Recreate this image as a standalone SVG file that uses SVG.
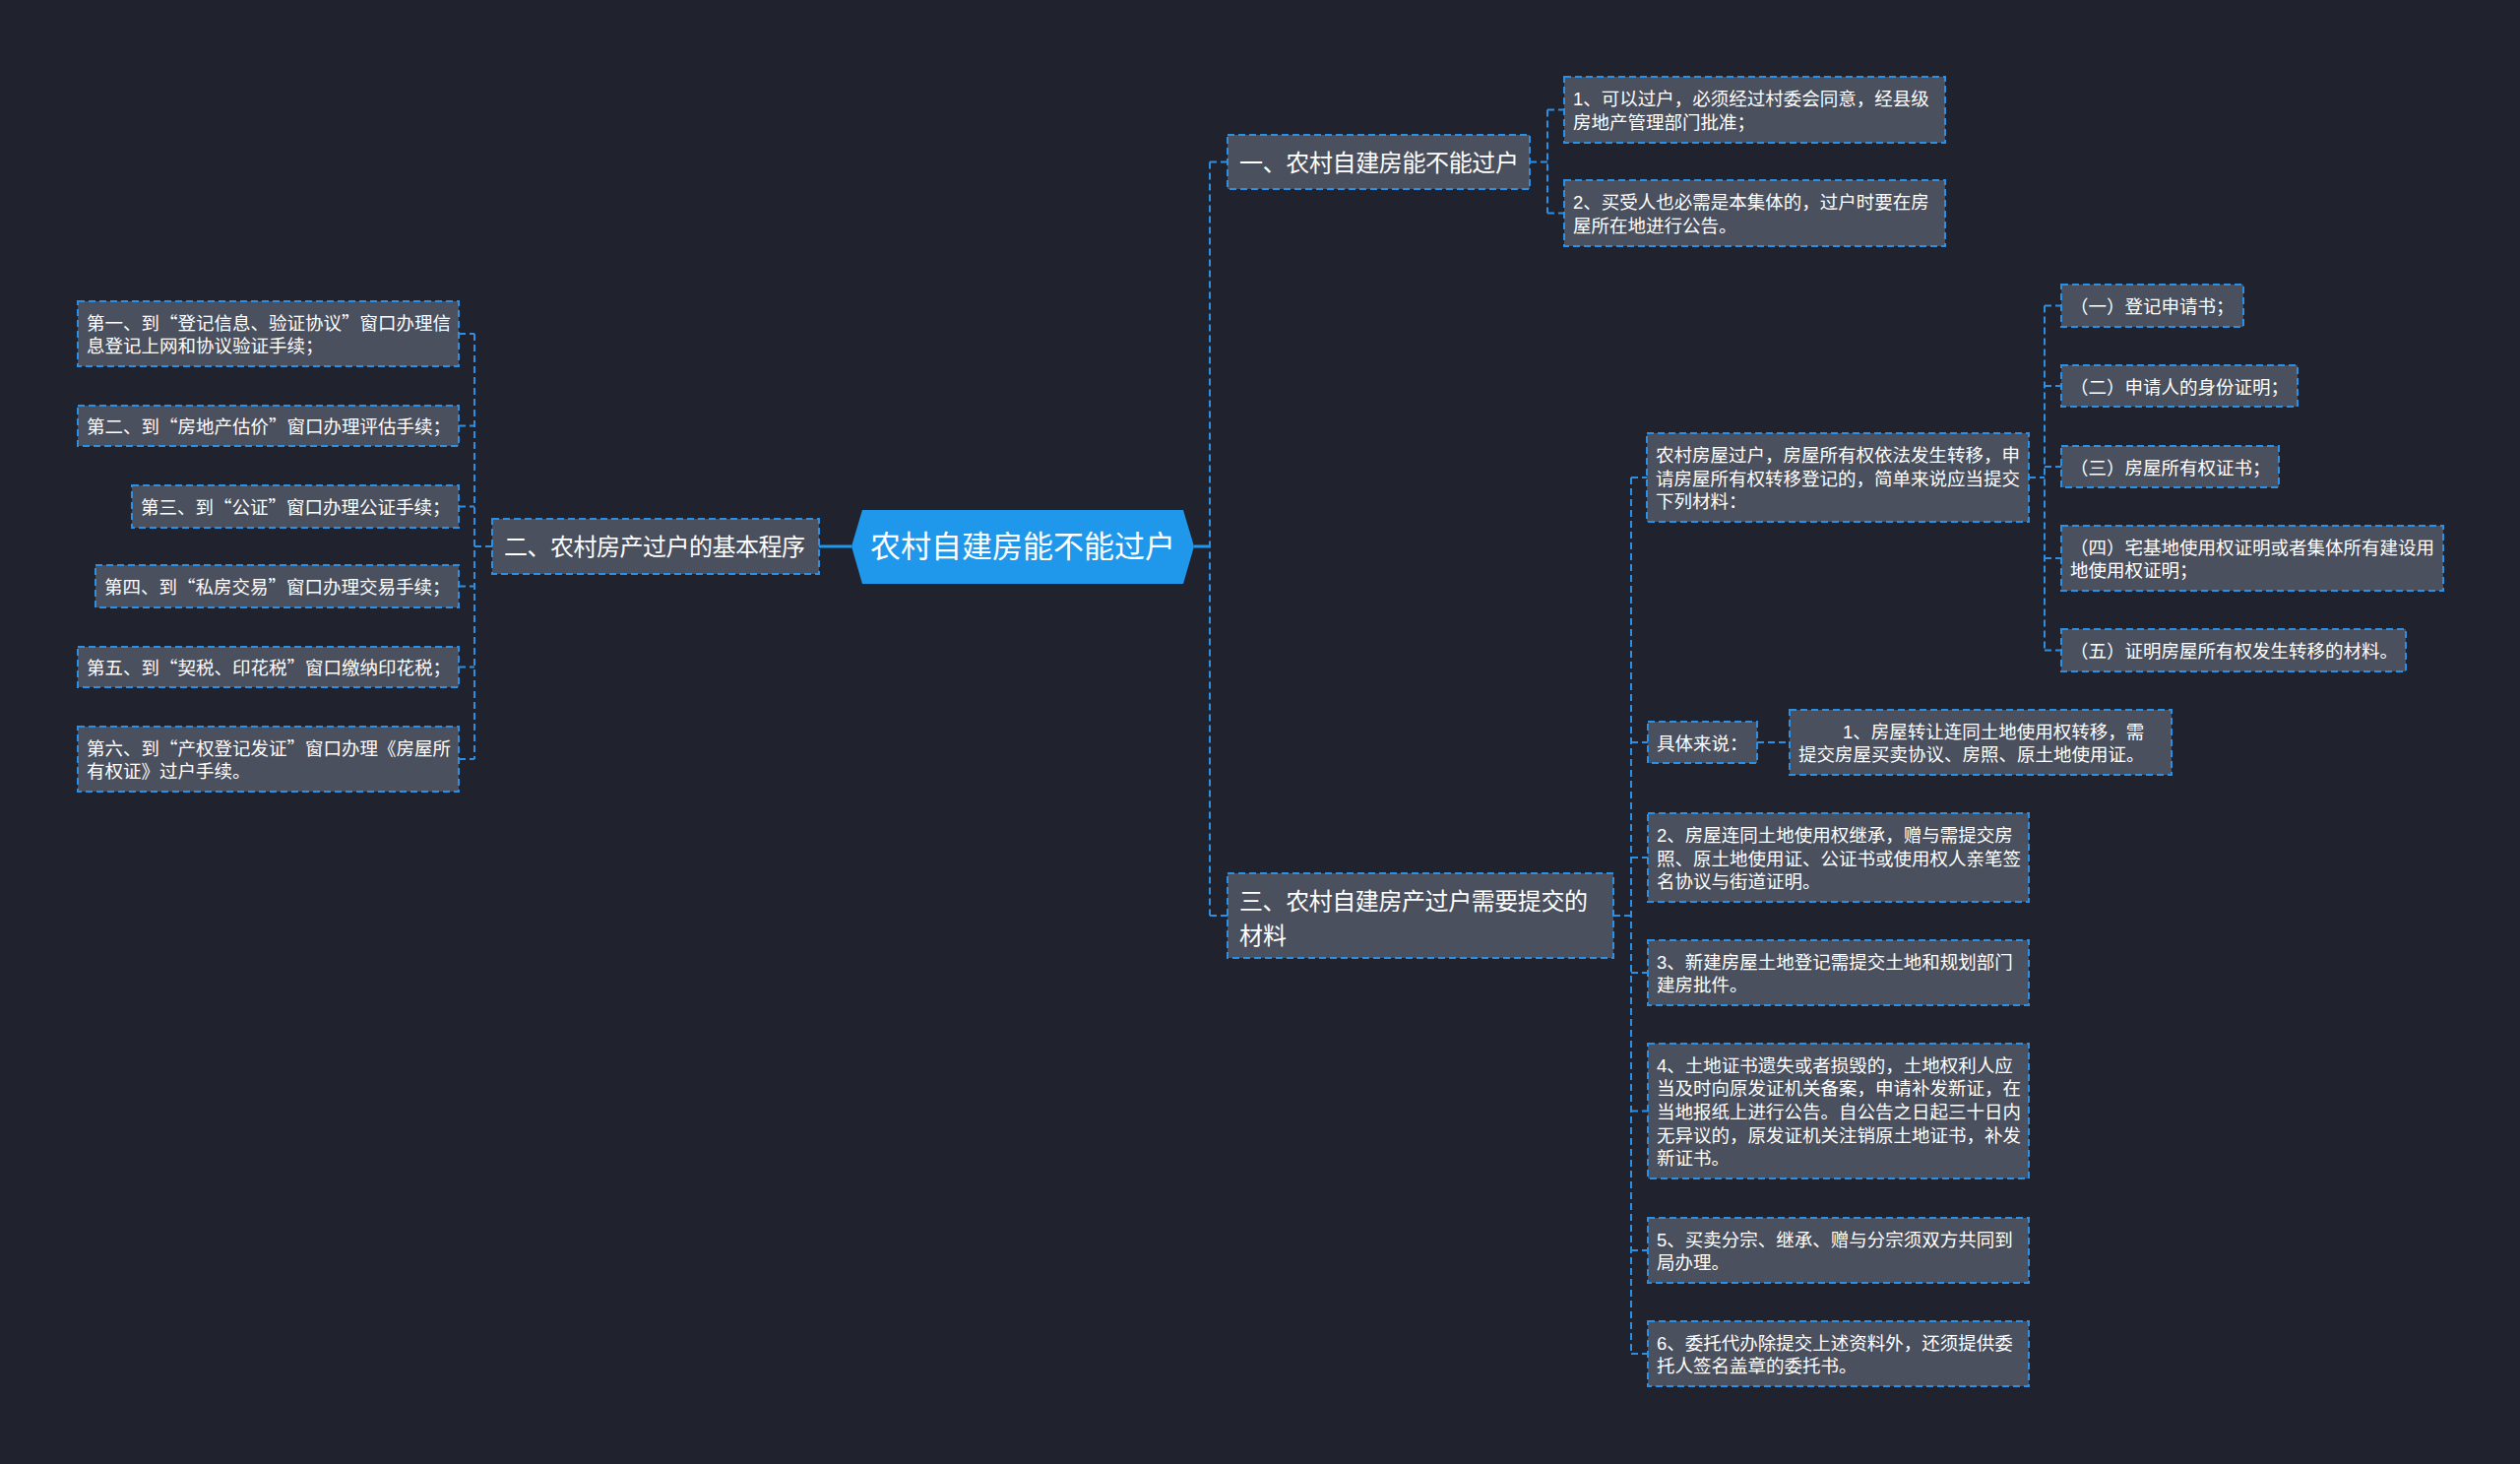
<svg xmlns="http://www.w3.org/2000/svg" width="2560" height="1487" viewBox="0 0 2560 1487">
<style>
.box{fill:#4a505e;stroke:#2b8fe3;stroke-width:2;stroke-dasharray:7 4}
.ln{fill:none;stroke:#2b8fe3;stroke-width:2;stroke-dasharray:7 4}
.sl{fill:none;stroke:#1f98ec;stroke-width:3}
text{font-family:'Liberation Sans','Noto Sans CJK SC',sans-serif;fill:#ffffff;font-size:18.5px}
.h{font-size:24px}
.q{font-family:'Noto Sans CJK SC',sans-serif}
</style>
<rect x="0" y="0" width="2560" height="1487" fill="#20232e"/>
<g id="connectors">
<path class="sl" d="M865,555 H832"/>
<path class="sl" d="M1213,555 H1229"/>
<path class="ln" d="M500,555 H482 M482,339 V771 M466,339 H482 M466,432.5 H482 M466,514.5 H482 M466,595.5 H482 M466,677.5 H482 M466,771 H482"/>
<path class="ln" d="M1229,164.5 V930 M1229,164.5 H1247 M1229,930 H1247"/>
<path class="ln" d="M1554,164.5 H1572 M1572,111.5 V216.5 M1572,111.5 H1589 M1572,216.5 H1589"/>
<path class="ln" d="M1639,930 H1657 M1657,485 V1375 M1657,485 H1673 M1657,754 H1674 M1657,871 H1674 M1657,988 H1674 M1657,1128.5 H1674 M1657,1270 H1674 M1657,1375 H1674"/>
<path class="ln" d="M2061,485 H2077 M2077,310.5 V660.5 M2077,310.5 H2094 M2077,392 H2094 M2077,474 H2094 M2077,567 H2094 M2077,660.5 H2094"/>
<path class="ln" d="M1785,754 H1818"/>
</g>
<g id="root">
<polygon points="865,555 876,518 1202,518 1213,555 1202,593 876,593" fill="#1f98ec"/>
<text x="1039" y="566" text-anchor="middle" style="font-size:31px">农村自建房能不能过户</text>
</g>
<g id="n1">
<rect class="box" x="1247" y="137" width="307" height="55"/>
<text class="h" x="1259" y="173.5" textLength="284">一、农村自建房能不能过户</text>
</g>
<g id="n1-1">
<rect class="box" x="1589" y="78" width="387" height="67"/>
<text x="1598" y="107.2">1、可以过户，必须经过村委会同意，经县级</text>
<text x="1598" y="130.9">房地产管理部门批准；</text>
</g>
<g id="n1-2">
<rect class="box" x="1589" y="183" width="387" height="67"/>
<text x="1598" y="212.2">2、买受人也必需是本集体的，过户时要在房</text>
<text x="1598" y="235.9">屋所在地进行公告。</text>
</g>
<g id="n2">
<rect class="box" x="500" y="527" width="332" height="56"/>
<text class="h" x="512" y="564" textLength="306">二、农村房产过户的基本程序</text>
</g>
<g id="n2-1">
<rect class="box" x="79" y="306" width="387" height="66"/>
<text x="88" y="334.7">第一、到<tspan class="q">“</tspan>登记信息、验证协议<tspan class="q">”</tspan>窗口办理信</text>
<text x="88" y="358.4">息登记上网和协议验证手续；</text>
</g>
<g id="n2-2">
<rect class="box" x="79" y="412" width="387" height="41"/>
<text x="88" y="440">第二、到<tspan class="q">“</tspan>房地产估价<tspan class="q">”</tspan>窗口办理评估手续；</text>
</g>
<g id="n2-3">
<rect class="box" x="134" y="493" width="332" height="43"/>
<text x="143" y="522">第三、到<tspan class="q">“</tspan>公证<tspan class="q">”</tspan>窗口办理公证手续；</text>
</g>
<g id="n2-4">
<rect class="box" x="97" y="574" width="369" height="43"/>
<text x="106" y="603">第四、到<tspan class="q">“</tspan>私房交易<tspan class="q">”</tspan>窗口办理交易手续；</text>
</g>
<g id="n2-5">
<rect class="box" x="79" y="657" width="387" height="41"/>
<text x="88" y="685">第五、到<tspan class="q">“</tspan>契税、印花税<tspan class="q">”</tspan>窗口缴纳印花税；</text>
</g>
<g id="n2-6">
<rect class="box" x="79" y="738" width="387" height="66"/>
<text x="88" y="766.7">第六、到<tspan class="q">“</tspan>产权登记发证<tspan class="q">”</tspan>窗口办理《房屋所</text>
<text x="88" y="790.4">有权证》过户手续。</text>
</g>
<g id="n3">
<rect class="box" x="1247" y="887" width="392" height="86"/>
<text class="h" x="1259" y="924" textLength="354">三、农村自建房产过户需要提交的</text>
<text class="h" x="1259" y="959">材料</text>
</g>
<g id="n3-a">
<rect class="box" x="1673" y="440" width="388" height="90"/>
<text x="1682" y="468.8">农村房屋过户，房屋所有权依法发生转移，申</text>
<text x="1682" y="492.5">请房屋所有权转移登记的，简单来说应当提交</text>
<text x="1682" y="516.2">下列材料：</text>
</g>
<g id="n3-a1">
<rect class="box" x="2094" y="289" width="185" height="43"/>
<text x="2103" y="318">（一）登记申请书；</text>
</g>
<g id="n3-a2">
<rect class="box" x="2094" y="371" width="240" height="42"/>
<text x="2103" y="399.5">（二）申请人的身份证明；</text>
</g>
<g id="n3-a3">
<rect class="box" x="2094" y="453" width="221" height="42"/>
<text x="2103" y="481.5">（三）房屋所有权证书；</text>
</g>
<g id="n3-a4">
<rect class="box" x="2094" y="534" width="388" height="66"/>
<text x="2103" y="562.7">（四）宅基地使用权证明或者集体所有建设用</text>
<text x="2103" y="586.4">地使用权证明；</text>
</g>
<g id="n3-a5">
<rect class="box" x="2094" y="639" width="350" height="43"/>
<text x="2103" y="668">（五）证明房屋所有权发生转移的材料。</text>
</g>
<g id="n3-b">
<rect class="box" x="1674" y="733" width="111" height="42"/>
<text x="1683" y="761.5">具体来说：</text>
</g>
<g id="n3-b1">
<rect class="box" x="1818" y="721" width="388" height="66"/>
<text x="1872" y="749.7">1、房屋转让连同土地使用权转移，需</text>
<text x="1827" y="773.4">提交房屋买卖协议、房照、原土地使用证。</text>
</g>
<g id="n3-c">
<rect class="box" x="1674" y="826" width="387" height="90"/>
<text x="1683" y="854.8">2、房屋连同土地使用权继承，赠与需提交房</text>
<text x="1683" y="878.5">照、原土地使用证、公证书或使用权人亲笔签</text>
<text x="1683" y="902.2">名协议与街道证明。</text>
</g>
<g id="n3-d">
<rect class="box" x="1674" y="955" width="387" height="66"/>
<text x="1683" y="983.7">3、新建房屋土地登记需提交土地和规划部门</text>
<text x="1683" y="1007.4">建房批件。</text>
</g>
<g id="n3-e">
<rect class="box" x="1674" y="1060" width="387" height="137"/>
<text x="1683" y="1088.6">4、土地证书遗失或者损毁的，土地权利人应</text>
<text x="1683" y="1112.3">当及时向原发证机关备案，申请补发新证，在</text>
<text x="1683" y="1136">当地报纸上进行公告。自公告之日起三十日内</text>
<text x="1683" y="1159.7">无异议的，原发证机关注销原土地证书，补发</text>
<text x="1683" y="1183.4">新证书。</text>
</g>
<g id="n3-f">
<rect class="box" x="1674" y="1237" width="387" height="66"/>
<text x="1683" y="1265.7">5、买卖分宗、继承、赠与分宗须双方共同到</text>
<text x="1683" y="1289.4">局办理。</text>
</g>
<g id="n3-g">
<rect class="box" x="1674" y="1342" width="387" height="66"/>
<text x="1683" y="1370.7">6、委托代办除提交上述资料外，还须提供委</text>
<text x="1683" y="1394.4">托人签名盖章的委托书。</text>
</g>
</svg>
